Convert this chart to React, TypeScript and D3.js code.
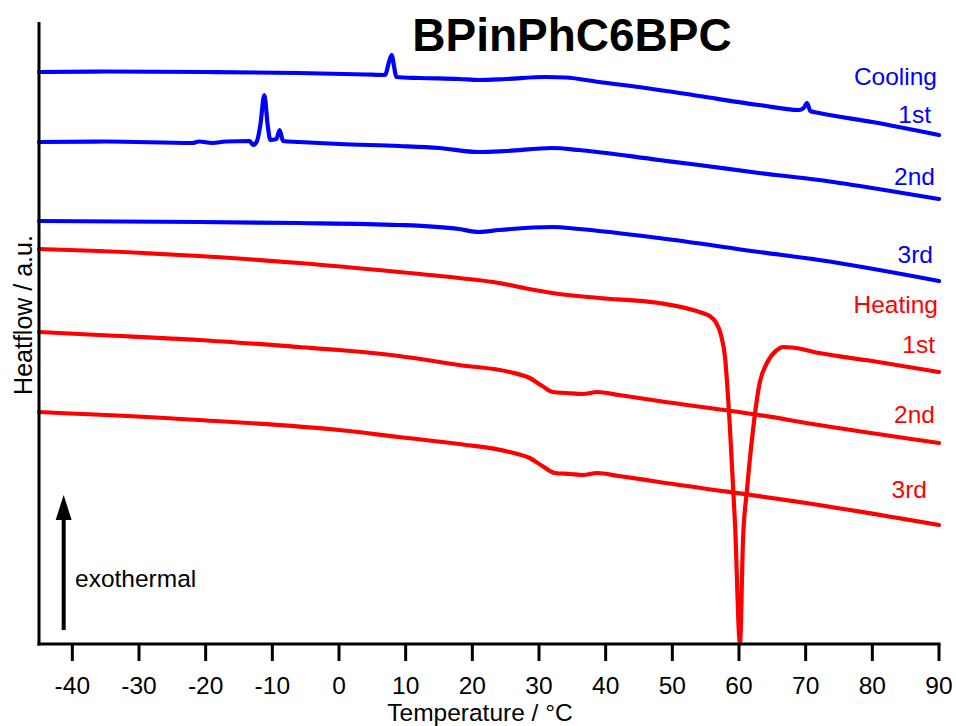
import React from "react";
import * as d3 from "d3";

// Temperature ticks (°C)
const xTicks = [-40, -30, -20, -10, 0, 10, 20, 30, 40, 50, 60, 70, 80, 90];

// Cooling runs (temperature °C, heatflow a.u.)
const cooling1T = [-45, -35, -20, -6, 4, 6.9, 7.5, 7.9, 8.3, 8.6, 12, 18, 21, 25, 31, 34, 39, 46, 54, 63, 69, 69.7, 70.2, 70.7, 72, 80, 90];
const cooling1H = [5.72, 5.725, 5.72, 5.71, 5.695, 5.69, 5.82, 5.89, 5.76, 5.67, 5.66, 5.65, 5.64, 5.65, 5.67, 5.665, 5.62, 5.56, 5.48, 5.39, 5.34, 5.36, 5.41, 5.33, 5.31, 5.22, 5.09];

const cooling2T = [-45, -35, -22, -21, -19, -17, -13.4, -12.9, -12.3, -11.8, -11.2, -10.7, -10.3, -9.4, -8.9, -8.4, -6, 0, 9, 15, 21, 25, 32, 36, 48, 54, 63, 72, 80, 90];
const cooling2H = [5.02, 5.025, 5.01, 5.025, 5.01, 5.025, 5.03, 4.99, 5.03, 5.19, 5.49, 5.19, 5.04, 5.05, 5.14, 5.03, 5.02, 5.0, 4.98, 4.96, 4.92, 4.93, 4.96, 4.94, 4.84, 4.79, 4.71, 4.64, 4.56, 4.45];

const cooling3T = [-45, -21, -6, 9, 18, 21, 24, 32, 36, 48, 63, 72, 90];
const cooling3H = [4.23, 4.22, 4.21, 4.19, 4.15, 4.12, 4.14, 4.17, 4.15, 4.06, 3.92, 3.84, 3.63];

// Heating runs
const heating1T = [-45, -36, -21, -6, 9, 18, 24, 28.5, 32, 39, 48, 54.5, 55.6, 56.5, 57.3, 57.9, 58.6, 59.4, 60.15, 60.6, 61.2, 62.1, 63.1, 64.2, 65.7, 66.6, 68, 72, 80, 90];
const heating1H = [3.95, 3.93, 3.88, 3.81, 3.72, 3.66, 3.61, 3.55, 3.51, 3.46, 3.41, 3.31, 3.28, 3.22, 3.09, 2.87, 2.21, 1.21, 0.01, 1.04, 1.54, 2.14, 2.61, 2.81, 2.94, 2.97, 2.965, 2.91, 2.83, 2.72];

const heating2T = [-45, -36, -21, -6, 0, 9, 18, 25.6, 28.6, 30.5, 32.1, 34.2, 36.6, 38.7, 42, 48, 63, 72, 90];
const heating2H = [3.12, 3.09, 3.04, 2.97, 2.94, 2.88, 2.79, 2.72, 2.66, 2.58, 2.52, 2.51, 2.5, 2.52, 2.49, 2.43, 2.29, 2.19, 2.01];

const heating3T = [-45, -21, 0, 9, 18, 25.6, 28.6, 30.5, 32.4, 34.7, 36.6, 38.7, 42, 48, 72, 90];
const heating3H = [2.32, 2.24, 2.14, 2.07, 2.0, 1.92, 1.86, 1.78, 1.71, 1.7, 1.69, 1.71, 1.68, 1.62, 1.39, 1.19];

const coolingLabels = ["Cooling", "1st", "2nd", "3rd"];
const heatingLabels = ["Heating", "1st", "2nd", "3rd"];

const FONT = "Arial, 'Liberation Sans', Helvetica, sans-serif";
const BLUE = "#0000ff";
const RED = "#ff0000";

export default function App() {
  const W = 956;
  const H = 726;
  const x = d3.scaleLinear().domain([-45, 90]).range([39, 939]);
  const y = d3.scaleLinear().domain([0, 6.22]).range([644, 22]);
  const line = d3
    .line<[number, number]>()
    .x((d) => x(d[0]))
    .y((d) => y(d[1]))
    .curve(d3.curveMonotoneX);

  const zip = (t: number[], h: number[]) => t.map((v, i) => [v, h[i]] as [number, number]);
  const series = [
    { d: zip(cooling1T, cooling1H), c: BLUE },
    { d: zip(cooling2T, cooling2H), c: BLUE },
    { d: zip(cooling3T, cooling3H), c: BLUE },
    { d: zip(heating1T, heating1H), c: RED },
    { d: zip(heating2T, heating2H), c: RED },
    { d: zip(heating3T, heating3H), c: RED },
  ];

  const coolPos = [
    [937, 85],
    [931, 123],
    [935, 185],
    [933, 263],
  ];
  const heatPos = [
    [938, 313],
    [935, 353],
    [935, 423],
    [927, 498],
  ];

  const [y0, y1] = y.range();
  const arrowX = x(-41.3);
  const arrowBottom = y(0.14);
  const arrowTop = y(1.49);

  return (
    <svg
      width={W}
      height={H}
      style={{ position: "absolute", left: 0, top: 0, display: "block", background: "#fff" }}
      fontFamily={FONT}
    >
      <rect x={0} y={0} width={W} height={H} fill="#fff" />
      {series.map((s, i) => (
        <path
          key={i}
          d={line(s.d) || ""}
          fill="none"
          stroke={s.c}
          strokeWidth={4.2}
          strokeLinejoin="round"
          strokeLinecap="round"
        />
      ))}
      {/* axes */}
      <line x1={x(-45)} x2={x(-45)} y1={y1} y2={y0 + 1.5} stroke="#000" strokeWidth={3} />
      <line x1={x(-45) - 1.5} x2={x(90) + 1.5} y1={y0} y2={y0} stroke="#000" strokeWidth={3} />
      {xTicks.map((t) => (
        <g key={t}>
          <line x1={x(t)} x2={x(t)} y1={y0} y2={y0 + 17} stroke="#000" strokeWidth={3} />
          <text x={x(t)} y={694} textAnchor="middle" fontSize={24.5} fill="#000">
            {t}
          </text>
        </g>
      ))}
      <text x={480} y={721} textAnchor="middle" fontSize={24.5} fill="#000">
        Temperature / °C
      </text>
      <text
        transform={`translate(32, 315) rotate(-90)`}
        textAnchor="middle"
        fontSize={25}
        fill="#000"
      >
        Heatflow / a.u.
      </text>
      <text x={572} y={51} textAnchor="middle" fontSize={46} fontWeight="bold" fill="#000">
        BPinPhC6BPC
      </text>
      {coolingLabels.map((l, i) => (
        <text key={"c" + i} x={coolPos[i][0]} y={coolPos[i][1]} textAnchor="end" fontSize={24.5} fill={BLUE}>
          {l}
        </text>
      ))}
      {heatingLabels.map((l, i) => (
        <text key={"h" + i} x={heatPos[i][0]} y={heatPos[i][1]} textAnchor="end" fontSize={24.5} fill={RED}>
          {l}
        </text>
      ))}
      {/* exothermal arrow */}
      <line x1={arrowX} x2={arrowX} y1={arrowBottom} y2={arrowTop + 20} stroke="#000" strokeWidth={4} />
      <path
        d={`M${arrowX},${arrowTop} L${arrowX + 8},${arrowTop + 25} L${arrowX - 8},${arrowTop + 25} Z`}
        fill="#000"
      />
      <text x={75} y={587} fontSize={24.5} fill="#000">
        exothermal
      </text>
    </svg>
  );
}
